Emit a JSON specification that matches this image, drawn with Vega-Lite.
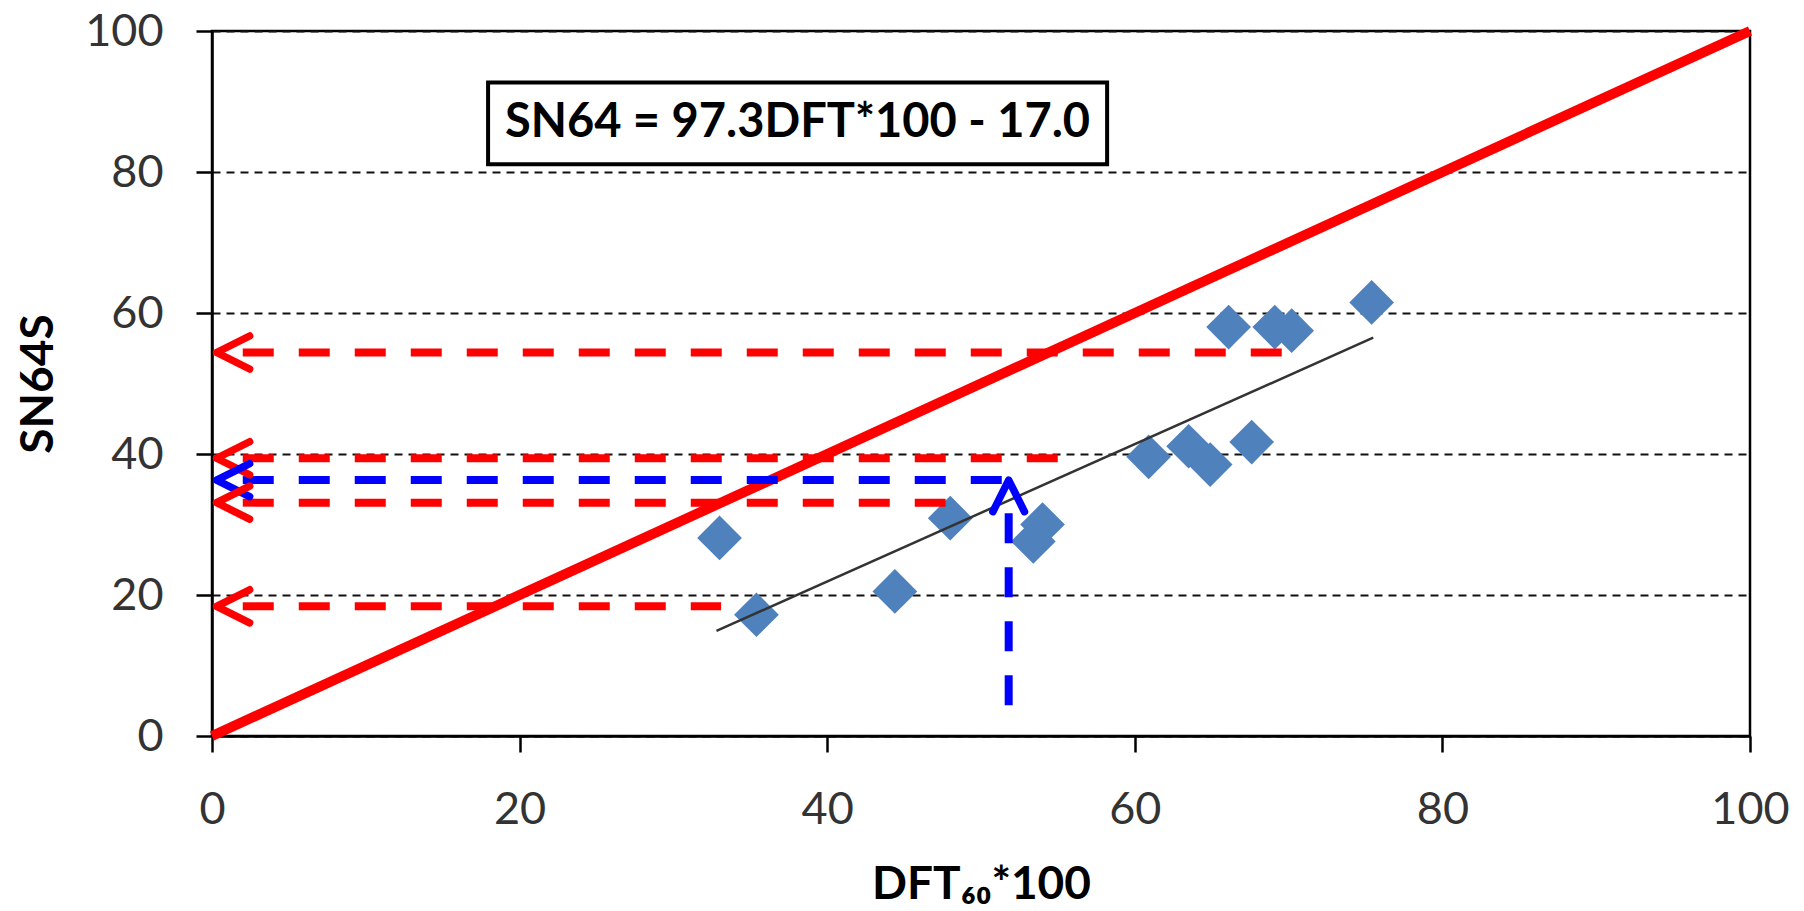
{
  "$schema": "https://vega.github.io/schema/vega-lite/v6.json",
  "width": 1538,
  "height": 705,
  "autosize": {"type": "none"},
  "padding": {"left": 212, "top": 31, "right": 54, "bottom": 175},
  "background": "white",
  "config": {
    "view": {"stroke": "black", "strokeWidth": 2.5},
    "axis": {
      "domainColor": "black",
      "domainWidth": 2.5,
      "tickColor": "black",
      "tickWidth": 2.5,
      "tickSize": 16,
      "labelFont": "Lato",
      "labelFontSize": 45,
      "labelColor": "#333333",
      "titleFont": "Lato",
      "titleFontSize": 46,
      "titleFontWeight": "bold",
      "titleColor": "black"
    }
  },
  "datasets": {
    "points": [
      {"dft": 33.0, "sn64": 28.1},
      {"dft": 35.4, "sn64": 17.2},
      {"dft": 44.4, "sn64": 20.5},
      {"dft": 48.0, "sn64": 30.9},
      {"dft": 53.4, "sn64": 27.6},
      {"dft": 54.0, "sn64": 30.0},
      {"dft": 60.9, "sn64": 39.6},
      {"dft": 63.5, "sn64": 41.1},
      {"dft": 64.9, "sn64": 38.5},
      {"dft": 67.6, "sn64": 41.7},
      {"dft": 66.1, "sn64": 58.0},
      {"dft": 69.1, "sn64": 58.0},
      {"dft": 70.2, "sn64": 57.5},
      {"dft": 75.4, "sn64": 61.5}
    ],
    "diag": [{"x": 0, "y": 0}, {"x": 100, "y": 100}],
    "trend": [{"x": 32.8, "y": 14.9}, {"x": 75.5, "y": 56.5}],
    "hlines": [
      {"line": "estimate", "y": 54.4, "x0": 2.0, "x1": 69.6},
      {"line": "estimate", "y": 39.4, "x0": 2.0, "x1": 55.0},
      {"line": "example", "y": 36.3, "x0": 2.0, "x1": 51.8},
      {"line": "estimate", "y": 33.1, "x0": 2.0, "x1": 47.7},
      {"line": "estimate", "y": 18.4, "x0": 2.0, "x1": 33.1}
    ],
    "vlines": [{"line": "example", "x": 51.8, "y0": 31.6, "y1": 2.9}],
    "uparrows": [{"line": "example", "x": 51.8, "y": 36.3}]
  },
  "encoding": {
    "x": {
      "type": "quantitative",
      "scale": {"domain": [0, 100], "nice": false, "zero": false},
      "axis": {
        "title": "DFT₆₀*100",
        "values": [0, 20, 40, 60, 80, 100],
        "grid": false,
        "labelFlush": false,
        "labelPadding": 35,
        "titlePadding": 30
      }
    },
    "y": {
      "type": "quantitative",
      "scale": {"domain": [0, 100], "nice": false, "zero": false},
      "axis": {
        "title": "SN64S",
        "values": [0, 20, 40, 60, 80, 100],
        "grid": true,
        "gridDash": [8, 6],
        "gridColor": "#111111",
        "gridWidth": 2,
        "labelPadding": 33,
        "titlePadding": 22
      }
    }
  },
  "layer": [
    {
      "data": {"name": "diag"},
      "mark": {"type": "line", "color": "#FF0000", "strokeWidth": 10},
      "encoding": {"x": {"field": "x"}, "y": {"field": "y"}}
    },
    {
      "data": {"name": "points"},
      "mark": {"type": "point", "shape": "diamond", "filled": true, "size": 2000, "color": "#4F81BD", "opacity": 1},
      "encoding": {"x": {"field": "dft"}, "y": {"field": "sn64"}}
    },
    {
      "data": {"name": "trend"},
      "mark": {"type": "line", "color": "#333333", "strokeWidth": 2.5},
      "encoding": {"x": {"field": "x"}, "y": {"field": "y"}}
    },
    {
      "data": {"name": "hlines"},
      "mark": {"type": "rule", "strokeWidth": 8, "strokeDash": [31, 25]},
      "encoding": {
        "x": {"field": "x0"},
        "x2": {"field": "x1"},
        "y": {"field": "y"},
        "color": {"field": "line", "type": "nominal", "scale": {"domain": ["estimate", "example"], "range": ["#FF0000", "#0000FF"]}, "legend": null}
      }
    },
    {
      "data": {"name": "vlines"},
      "mark": {"type": "rule", "strokeWidth": 8, "strokeDash": [30, 24]},
      "encoding": {
        "x": {"field": "x"},
        "y": {"field": "y0"},
        "y2": {"field": "y1"},
        "color": {"field": "line", "type": "nominal", "scale": {"domain": ["estimate", "example"], "range": ["#FF0000", "#0000FF"]}, "legend": null}
      }
    },
    {
      "data": {"name": "hlines"},
      "mark": {"type": "point", "shape": "M2,-1L0,0L2,1", "filled": false, "size": 1089, "strokeWidth": 7.5, "strokeCap": "round", "strokeJoin": "round", "opacity": 1},
      "encoding": {
        "x": {"datum": 0.3},
        "y": {"field": "y"},
        "color": {"field": "line", "type": "nominal", "scale": {"domain": ["estimate", "example"], "range": ["#FF0000", "#0000FF"]}, "legend": null}
      }
    },
    {
      "data": {"name": "uparrows"},
      "mark": {"type": "point", "shape": "M-1,2L0,0L1,2", "filled": false, "size": 1000, "strokeWidth": 7.5, "strokeCap": "round", "strokeJoin": "round", "opacity": 1},
      "encoding": {
        "x": {"field": "x"},
        "y": {"field": "y"},
        "color": {"field": "line", "type": "nominal", "scale": {"domain": ["estimate", "example"], "range": ["#FF0000", "#0000FF"]}, "legend": null}
      }
    },
    {
      "data": {"values": [{"label": "SN64 = 97.3DFT*100 - 17.0"}]},
      "mark": {"type": "rect", "fill": "white", "stroke": "black", "strokeWidth": 4},
      "encoding": {
        "x": {"datum": 17.95},
        "x2": {"datum": 58.2},
        "y": {"datum": 92.7},
        "y2": {"datum": 81.1}
      }
    },
    {
      "data": {"values": [{"label": "SN64 = 97.3DFT*100 - 17.0"}]},
      "mark": {"type": "text", "font": "Lato", "fontSize": 47, "fontWeight": "bold", "color": "black", "align": "center", "baseline": "middle"},
      "encoding": {
        "x": {"datum": 38.07},
        "y": {"datum": 86.9},
        "text": {"field": "label"}
      }
    }
  ]
}
